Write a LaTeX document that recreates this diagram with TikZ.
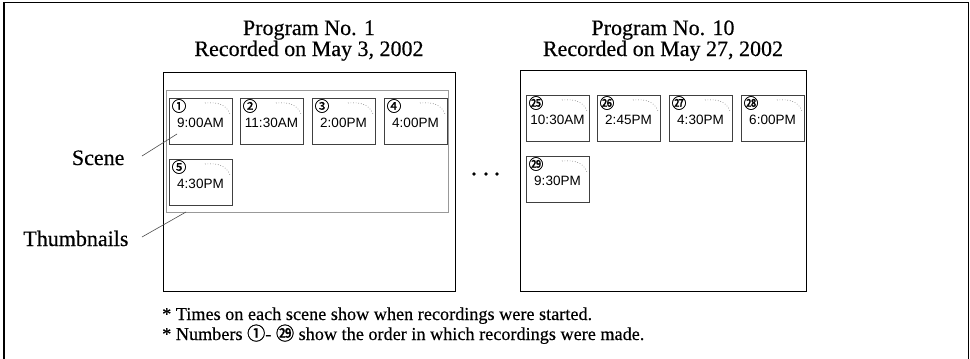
\documentclass[tikz,border=0pt]{standalone}
\usepackage{fontspec}
\setmainfont{Liberation Serif}[FakeBold=0.4]
\setsansfont{Liberation Sans}
\newfontfamily\cjk{Noto Sans CJK SC}
\newfontfamily\cjkb{Noto Sans CJK SC}[FakeBold=1.2]
\tikzset{
  frame/.style={line width=1.5pt, black},
  progbox/.style={draw, line width=1.4pt, black, rectangle, anchor=north west, inner sep=0},
  groupbox/.style={draw, line width=1pt, gray!80, rectangle, anchor=north west, inner sep=0},
  thumbbox/.style={draw, line width=0.9pt, black!75, rectangle, anchor=north west, inner sep=0, minimum width=63pt, minimum height=46pt},
  timetext/.style={font=\sffamily\fontsize{13.5}{14}\selectfont},
  numtext/.style={font=\cjkb\fontsize{14.5}{14.5}\selectfont, inner sep=0},
  title/.style={font=\fontsize{22}{24}\selectfont, anchor=base},
  label/.style={font=\fontsize{22}{24}\selectfont, anchor=base east},
  note/.style={font=\fontsize{18.2}{20}\selectfont, anchor=base west, inner sep=0},
  leader/.style={line width=0.6pt, black!70},
  scenedots/.style={dotted, line width=0.6pt, gray!80!black}
}
\newcommand{\mythumb}[5]{%
  \node[thumbbox] (#1) at (#2,#3) {};
  \node[numtext] (#1n) at ({#2+10},{#3+8}) {#4};
  \node[timetext] (#1t) at ({#2+31.5},{#3+25}) {#5};
  \draw[scenedots] ({#2+36},{#3+5}) .. controls ({#2+48},{#3+4}) and ({#2+57},{#3+6}) .. ({#2+61},{#3+16});
}
\begin{document}
\begin{tikzpicture}[x=1pt,y=-1pt]
\useasboundingbox (0,0) rectangle (970,359);
\draw[frame] (4,360) -- (4,2.5) -- (968.5,2.5) -- (968.5,360);

% titles
\node[title] (t1a) at (309,35) {Program No. 1};
\node[title] (t1b) at (309,56) {Recorded on May 3, 2002};
\node[title] (t2a) at (663,35) {Program No. 10};
\node[title] (t2b) at (663,56) {Recorded on May 27, 2002};

% program boxes
\node[progbox, minimum width=292pt, minimum height=219pt] (p1) at (163,72) {};
\node[progbox, minimum width=286pt, minimum height=221pt] (p2) at (520,70) {};

% thumbnail group
\node[groupbox, minimum width=282pt, minimum height=122pt] (g1) at (166,90) {};

\mythumb{s1}{169}{98}{①}{9:00AM}
\mythumb{s2}{240}{98}{②}{11:30AM}
\mythumb{s3}{312}{98}{③}{2:00PM}
\mythumb{s4}{384}{98}{④}{4:00PM}
\mythumb{s5}{169}{159}{⑤}{4:30PM}

\mythumb{s25}{526}{95}{㉕}{10:30AM}
\mythumb{s26}{597}{95}{㉖}{2:45PM}
\mythumb{s27}{669}{95}{㉗}{4:30PM}
\mythumb{s28}{741}{95}{㉘}{6:00PM}
\mythumb{s29}{526}{156}{㉙}{9:30PM}

% dots
\foreach \i/\xx in {1/474,2/486,3/497} \fill (\xx,174) circle (1.8pt);

% labels
\node[label] (lscene) at (128,165) {Scene};
\node[label] (lthumb) at (132,246) {Thumbnails};
\coordinate (sceneend) at (177,134);
\coordinate (thumbend) at (186,212);
\draw[leader] (142,156) -- (sceneend);
\draw[leader] (142,237) -- (thumbend);

% notes
\node[note] (n1) at (162,320) {* Times on each scene show when recordings were started.};
\node[note] (n2) at (162,340) {* Numbers {\cjkb ①}- {\cjkb ㉙} show the order in which recordings were made.};
\end{tikzpicture}
\end{document}
